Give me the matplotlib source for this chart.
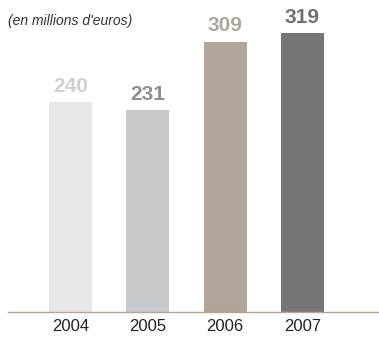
import matplotlib
matplotlib.use("Agg")
import matplotlib.pyplot as plt

years = ["2004", "2005", "2006", "2007"]
values = [240, 231, 309, 319]
bar_colors = ["#e6e7e6", "#c8c9cb", "#b0a69a", "#767677"]
label_colors = ["#d0d0d0", "#8e8f91", "#b0a59a", "#6f7072"]
unit_note = "(en millions d'euros)"

plt.rcParams["font.family"] = ["Liberation Sans", "DejaVu Sans"]

W, H = 379, 338
fig = plt.figure(figsize=(W / 100, H / 100), dpi=100)
# axes spans from the baseline (26 px from bottom) to the top edge
ax = fig.add_axes([8 / W, 26 / H, 1 - 8 / W, 1 - 26 / H])

x = list(range(len(years)))
ax.bar(x, values, width=0.556, color=bar_colors, zorder=2)
ax.set_xlim(-0.808, 3.99)
ax.set_ylim(0, 312 / 0.875)

for xi, v, c in zip(x, values, label_colors):
    ax.annotate(str(v), (xi, v), xytext=(0, 4.5), textcoords="offset points",
                ha="center", va="bottom", fontsize=15, fontweight="bold",
                color=c)

for s in ["top", "right", "left"]:
    ax.spines[s].set_visible(False)
ax.spines["bottom"].set_color("#b0a59a")
ax.spines["bottom"].set_linewidth(1.0)
ax.set_yticks([])
ax.set_xticks(x)
ax.set_xticklabels(years, fontsize=12, color="#222222")
ax.tick_params(axis="x", length=0, pad=5)
ax.patch.set_alpha(0)

fig.text(8 / W, 1 - 25 / H, unit_note, fontsize=10, style="italic",
         color="#333333", ha="left", va="baseline")

fig.savefig("out.png", dpi=100)
